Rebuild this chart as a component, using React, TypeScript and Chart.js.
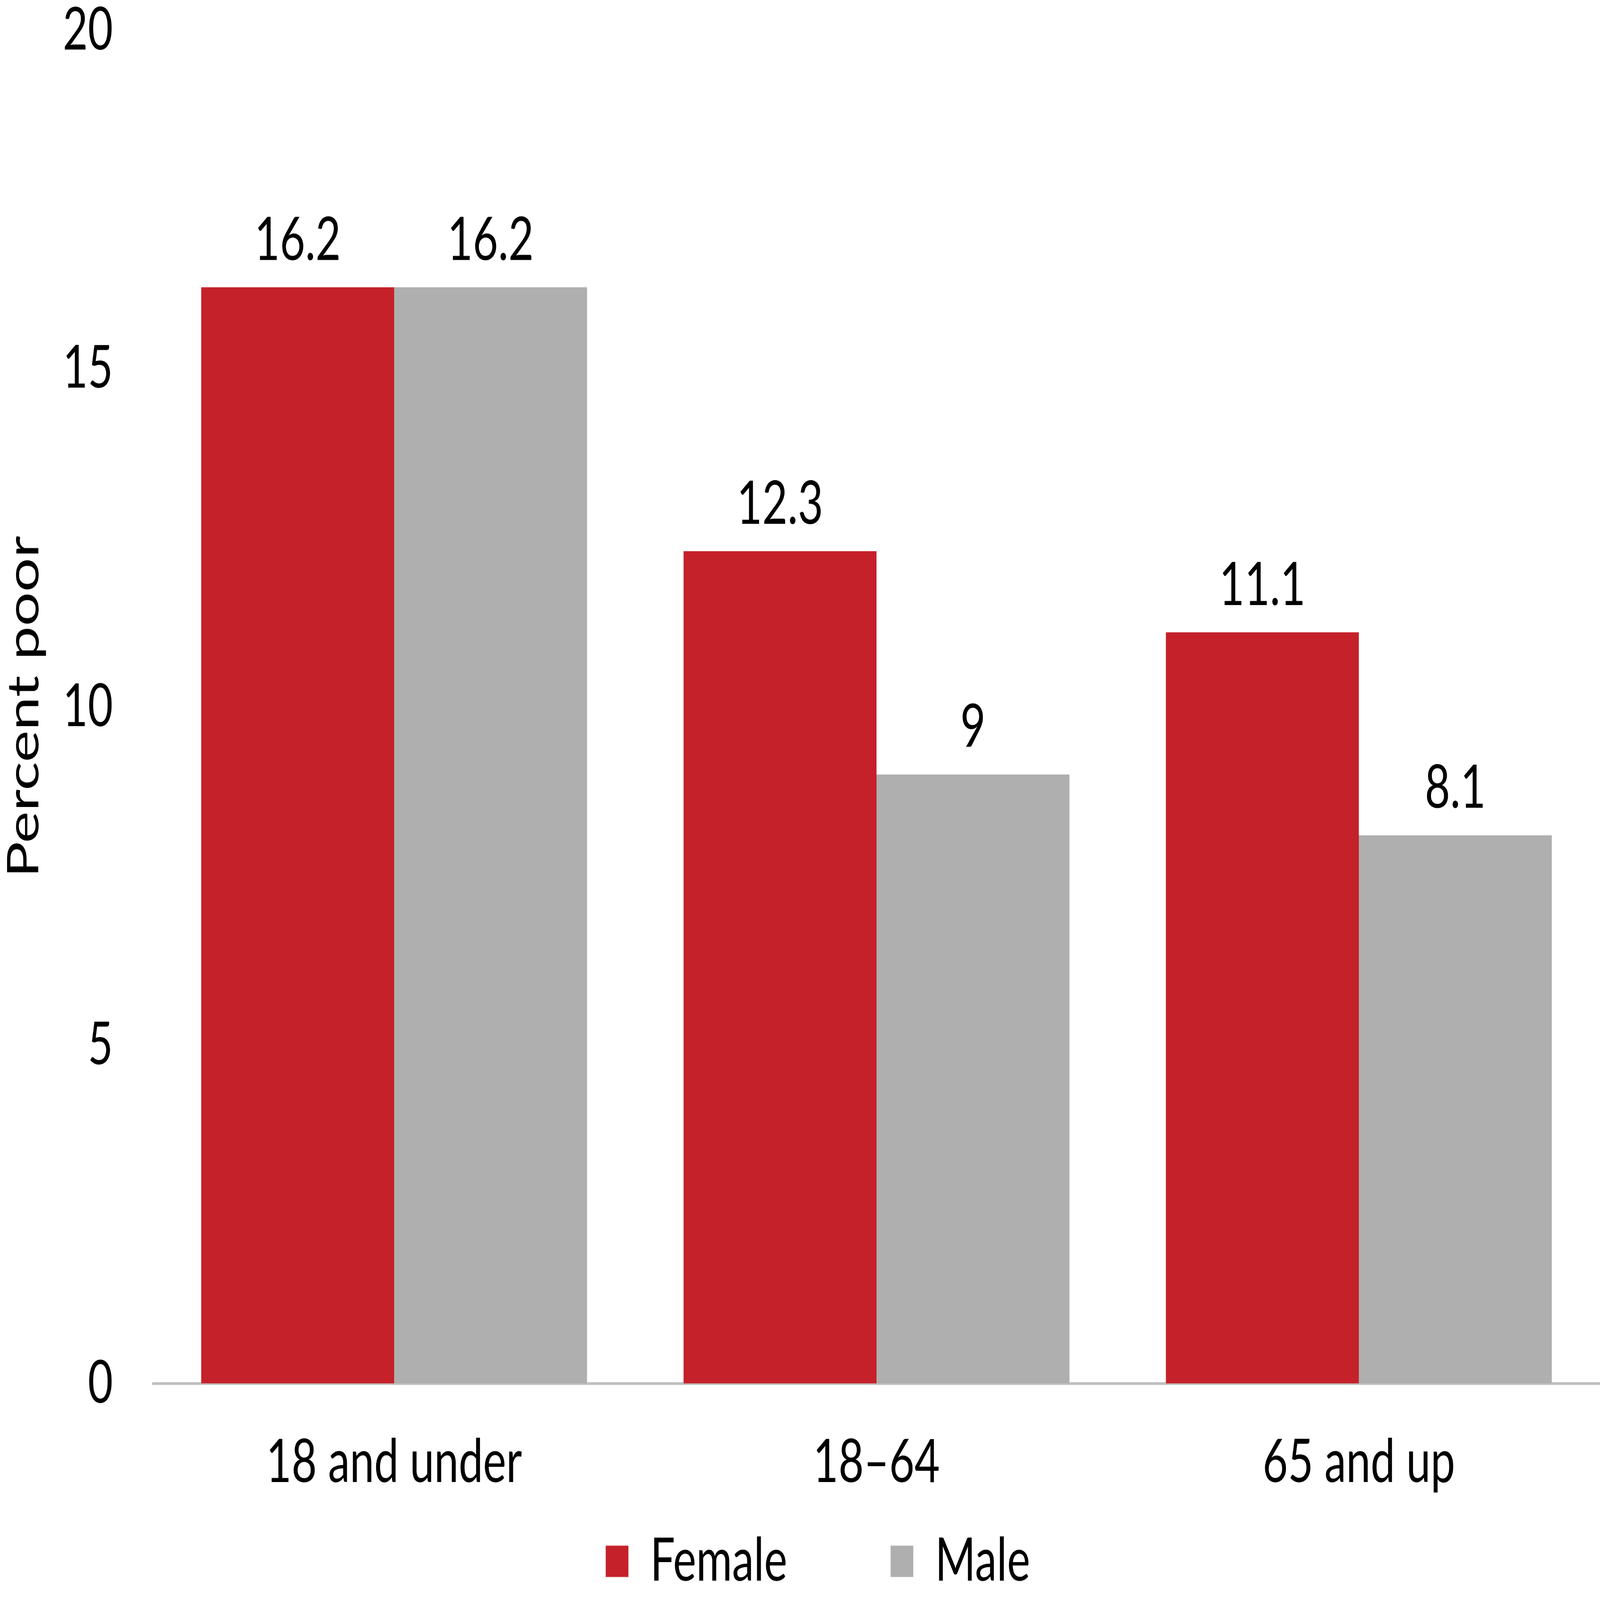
import React, { useEffect, useRef } from "react";
import Chart from "chart.js/auto";

const categories = ["18 and under", "18–64", "65 and up"];
const femaleValues = [16.2, 12.3, 11.1];
const maleValues = [16.2, 9, 8.1];
const yTicks = [0, 5, 10, 15, 20];

const RED = "#C5212A";
const GREY = "#AFAFAF";
const FONT = "Lato, 'Noto Sans', sans-serif";

// canvas is drawn at the reference size and css-stretched to the window
const W = 5712;
const H = 4136;
const PLOT_TOP = 78;
const PLOT_BOTTOM = 3576;
const LABEL_MID = 3781;
const LEGEND_MID = 4036;
const TEXT = 156;
const X_PAD = LABEL_MID - PLOT_BOTTOM - (TEXT * 1.2) / 2;

// writes the value above each bar
const barValues = {
  id: "barValues",
  afterDatasetsDraw(chart: any) {
    const ctx = chart.ctx;
    ctx.save();
    ctx.font = `${TEXT}px ${FONT}`;
    ctx.fillStyle = "#000";
    ctx.textAlign = "center";
    ctx.textBaseline = "alphabetic";
    chart.data.datasets.forEach((ds: any, i: number) => {
      chart.getDatasetMeta(i).data.forEach((bar: any, j: number) => {
        ctx.fillText(String(ds.data[j]), bar.x, bar.y - 71);
      });
    });
    ctx.restore();
  },
};

// legend row sits a bit right of centre, near the bottom edge
const legendPlace = {
  id: "legendPlace",
  afterLayout(chart: any) {
    const lg = chart.legend;
    if (!lg) return;
    const pad = lg.options.labels.padding;
    lg.top = LEGEND_MID - TEXT / 2 - pad;
    lg.bottom = chart.height;
    lg.left += 128;
  },
};

export default function App() {
  const canvasRef = useRef<HTMLCanvasElement>(null);

  useEffect(() => {
    if (!canvasRef.current) return;
    const chart = new Chart(canvasRef.current, {
      type: "bar",
      data: {
        labels: categories,
        datasets: [
          { label: "Female", data: femaleValues, backgroundColor: RED, borderWidth: 0 },
          { label: "Male", data: maleValues, backgroundColor: GREY, borderWidth: 0 },
        ],
      },
      options: {
        animation: false,
        responsive: false,
        devicePixelRatio: 1,
        layout: { padding: 0 },
        datasets: { bar: { categoryPercentage: 0.8, barPercentage: 1.0 } },
        plugins: {
          tooltip: { enabled: false },
          legend: {
            position: "bottom",
            maxHeight: H - PLOT_BOTTOM - (TEXT * 1.2 + 2 * X_PAD),
            labels: {
              boxWidth: 81,
              boxHeight: 81,
              padding: 369,
              color: "#000",
              font: { family: FONT, size: TEXT },
            },
          },
        },
        scales: {
          x: {
            grid: { display: false, drawTicks: false },
            border: { display: true, color: "#BFBFBF", width: 7 },
            ticks: {
              padding: X_PAD,
              color: "#000",
              font: { family: FONT, size: TEXT, lineHeight: 1.2 },
            },
          },
          y: {
            min: 0,
            max: 20,
            afterBuildTicks: (scale: any) => {
              scale.ticks = yTicks.map((v) => ({ value: v }));
            },
            afterFit: (scale: any) => {
              scale.width = 546;
              scale.paddingTop = PLOT_TOP;
              scale.paddingBottom = 0;
            },
            grid: { display: false, drawTicks: false },
            border: { display: false },
            ticks: {
              padding: 143,
              color: "#000",
              font: { family: FONT, size: 154, lineHeight: 1 },
            },
            title: {
              display: true,
              text: "Percent poor",
              color: "#000",
              padding: { top: 9, bottom: 0 },
              font: { family: FONT, size: TEXT, lineHeight: 1 },
            },
          },
        },
      },
      plugins: [barValues, legendPlace],
    });
    return () => chart.destroy();
  }, []);

  return (
    <div style={{ position: "fixed", left: 0, top: 0, width: "100vw", height: "100vh", background: "#fff" }}>
      <canvas
        ref={canvasRef}
        width={W}
        height={H}
        style={{ display: "block", width: "100vw", height: "100vh" }}
      ></canvas>
    </div>
  );
}
